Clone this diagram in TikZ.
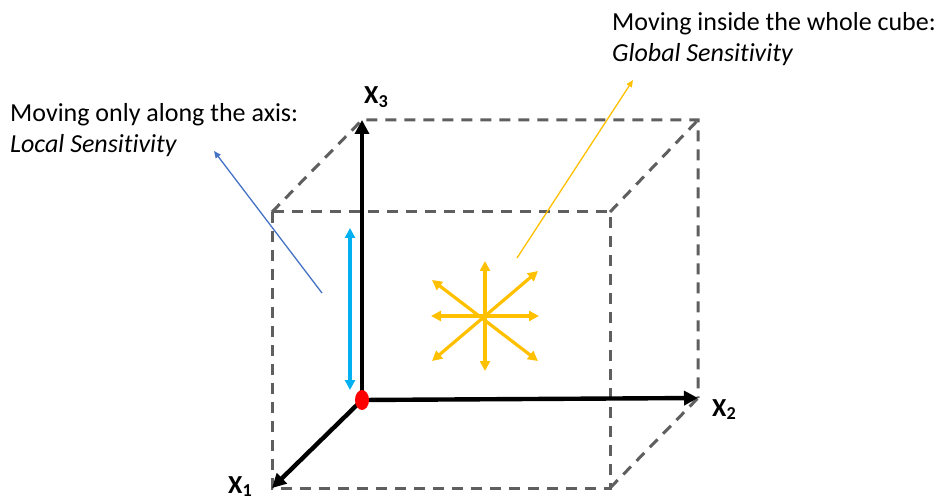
\documentclass[tikz,border=0pt]{standalone}
\usepackage{fontspec}
\setmainfont{Carlito}[Ligatures=NoCommon]
\usetikzlibrary{arrows.meta}
\definecolor{dashgray}{RGB}{95,95,95}
\definecolor{cyanarr}{RGB}{0,176,240}
\definecolor{bluearr}{RGB}{68,114,196}
\definecolor{goldarr}{RGB}{255,192,0}
\begin{document}
\begin{tikzpicture}[x=1pt,y=-1pt,
  edge/.style={dashgray,line width=3pt,dash pattern=on 11pt off 8pt},
  axis/.style={black,line width=4.4pt,-{Triangle[length=14pt,width=14pt]}},
  star/.style={goldarr,line width=3.2pt,{Triangle[length=10pt,width=10pt]}-{Triangle[length=10pt,width=10pt]}},
  lbl/.style={font=\fontsize{26pt}{28pt}\selectfont\bfseries, inner sep=0pt, anchor=base west},
  note/.style={font=\fontsize{26pt}{31pt}\selectfont, align=left, inner sep=0pt, anchor=north west}]
\useasboundingbox (0,0) rectangle (941,502);
% cube corners
\coordinate (O) at (362,400);
\coordinate (B3) at (362,120);
\coordinate (B2) at (698,398);
\coordinate (B23) at (698,120);
\coordinate (F) at (272,488);
\coordinate (F3) at (272,212);
\coordinate (F2) at (610,488);
\coordinate (F23) at (610,212);
% dashed edges
\draw[edge] (F3) -- (F) -- (F2) -- (F23) -- cycle;
\draw[edge] (F3) -- (B3) -- (B23) -- (B2);
\draw[edge] (F23) -- (B23);
\draw[edge] (F2) -- (B2);
% axes
\draw[axis] (O) -- (B3);
\draw[axis] (O) -- (B2);
\draw[axis] (O) -- (F);
\fill[red] (O) ellipse (7pt and 10pt);
% axis labels
\node[lbl] (x3) at (364,104) {X\textsubscript{3}};
\node[lbl] (x2) at (712,416) {X\textsubscript{2}};
\node[lbl] (x1) at (228,493) {X\textsubscript{1}};
% local arrow
\coordinate (l1) at (350,228);
\coordinate (l2) at (350,390);
\draw[cyanarr,line width=3.2pt,{Triangle[length=10pt,width=10pt]}-{Triangle[length=10pt,width=10pt]}] (l1) -- (l2);
% star
\coordinate (c) at (485,316);
\coordinate (s1) at (485,261);
\coordinate (s2) at (485,371);
\coordinate (s3) at (431,316);
\coordinate (s4) at (539,316);
\coordinate (s5) at (538,271);
\coordinate (s6) at (432,361);
\coordinate (s7) at (432,280);
\coordinate (s8) at (538,361);
\draw[star] (s1) -- (s2);
\draw[star] (s3) -- (s4);
\draw[star] (s5) -- (s6);
\draw[star] (s7) -- (s8);
% notes
\node[note] (local) at (10,103) {Moving only along the axis:\\\textit{Local Sensitivity}};
\node[note] (global) at (612,12) {Moving inside the whole cube:\\\textit{Global Sensitivity}};
\coordinate (la) at (322,293);
\coordinate (lb) at (214,151);
\draw[bluearr,line width=1.3pt,-{Triangle[length=7pt,width=6pt]}] (la) -- (lb);
\coordinate (ga) at (517,258);
\coordinate (gb) at (633,80);
\draw[goldarr,line width=1.3pt,-{Triangle[length=7pt,width=6pt]}] (ga) -- (gb);
\end{tikzpicture}
\end{document}
